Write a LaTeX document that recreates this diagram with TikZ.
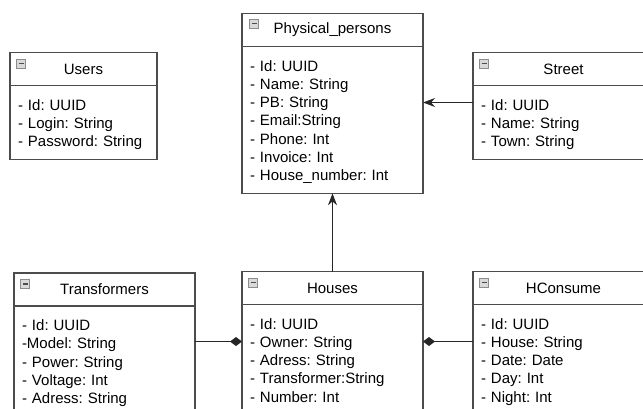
\documentclass[tikz,border=0pt]{standalone}
\usepackage{fontspec}
\setmainfont{Liberation Sans}
\frenchspacing
\usetikzlibrary{shapes,arrows.meta,positioning,calc}

\begin{document}
\begin{tikzpicture}[x=1pt,y=-1pt,>={Stealth[length=12pt,width=9pt]},line width=1.2pt,font=\fontsize{15}{18.3}\selectfont]
\tikzstyle{head}=[draw=black!70,fill=white,minimum height=33pt,inner sep=0pt,outer sep=0pt]
\tikzstyle{body}=[draw=black!70,fill=white,align=left,inner xsep=8pt,inner ysep=9.5pt,outer sep=0pt,text width=165pt,execute at begin node={\rule{0pt}{15pt}}]
\tikzstyle{minus}=[draw=black!45,fill=black!15,line width=0.6pt,minimum size=9pt,inner sep=0pt,
  path picture={\draw[black!70,line width=1.4pt] ([xshift=2pt]path picture bounding box.west) -- ([xshift=-2pt]path picture bounding box.east);}]
\tikzstyle{link}=[draw=black!85]
\tikzstyle{part}=[link,-{Diamond[length=12pt,width=9pt]}]
\useasboundingbox (0,0) rectangle (643,408);
\clip (0,0) rectangle (643,408);

% Users
\node[head,minimum width=147pt] (uh) at (83.5,69) {Users};
\node[body,text width=131pt,below=0pt of uh] (ub) {- Id: UUID\\- Login: String\\- Password: String};
\node[minus] (um) at ($(uh.north west)+(11,11)$) {};

% Physical_persons
\node[head,minimum width=181pt] (ph) at (332.5,30) {Physical\_persons};
\node[body,below=0pt of ph] (pb) {- Id: UUID\\- Name: String\\- PB: String\\- Email:String\\- Phone: Int\\- Invoice: Int\\- House\_number: Int};
\node[minus] (pm) at ($(ph.north west)+(12,10)$) {};

% Street
\node[head,minimum width=181pt] (sh) at (563.5,69) {Street};
\node[body,below=0pt of sh] (sb) {- Id: UUID\\- Name: String\\- Town: String};
\node[minus] (sm) at ($(sh.north west)+(11,11)$) {};

% Transformers
\node[head,minimum width=181pt] (th) at (104.5,289.5) {Transformers};
\node[body,below=0pt of th] (tb) {- Id: UUID\\-Model: String\\- Power: String\\- Voltage: Int\\- Adress: String};
\node[minus] (tm) at ($(th.north west)+(11,11)$) {};

% Houses
\node[head,minimum width=181pt] (hh) at (332.5,288) {Houses};
\node[body,below=0pt of hh] (hb) {- Id: UUID\\- Owner: String\\- Adress: String\\- Transformer:String\\- Number: Int};
\node[minus] (hm) at ($(hh.north west)+(11,11)$) {};

% HConsume
\node[head,minimum width=181pt] (ch) at (563.5,288) {HConsume};
\node[body,below=0pt of ch] (cb) {- Id: UUID\\- House: String\\- Date: Date\\- Day: Int\\- Night: Int};
\node[minus] (cm) at ($(ch.north west)+(11,11)$) {};

% links
\coordinate (s1) at ($(sb.north west)+(0,17)$);
\coordinate (h1) at ($(hb.north west)+(0,37)$);
\coordinate (h2) at ($(hb.north east)+(0,37)$);
\draw[link,->] (s1) -- (pb.east |- s1);
\draw[link,->] (hh.north) -- (pb.south);
\draw[part] (tb.east |- h1) -- (h1);
\draw[part] (cb.west |- h2) -- (h2);
\end{tikzpicture}
\end{document}
